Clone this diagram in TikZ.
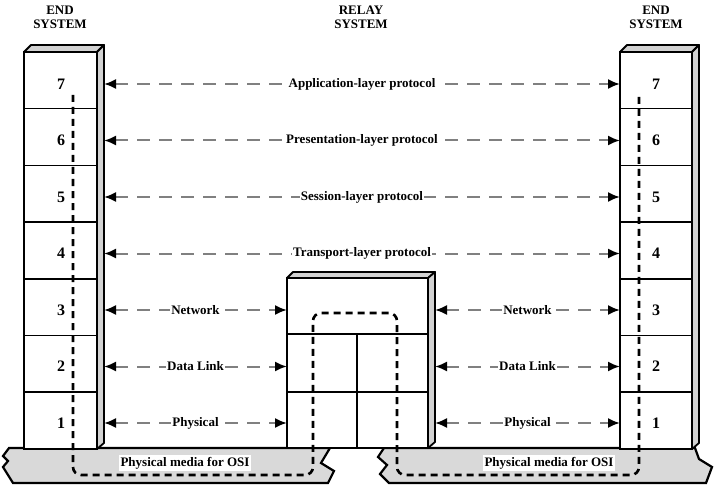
\documentclass[tikz,border=0pt]{standalone}
\usepackage{fontspec}
\setmainfont{Liberation Serif}
\usetikzlibrary{arrows.meta}

\begin{document}
\begin{tikzpicture}[x=1pt,y=-1pt,
  every node/.style={font=\bfseries\fontsize{13}{14}\selectfont},
  proto/.style={draw=gray, line width=2pt, dash pattern=on 13pt off 9pt,
    {Latex[color=black,length=12pt,width=10pt]}-{Latex[color=black,length=12pt,width=10pt]}},
  lbl/.style={fill=white, inner sep=1pt},
  num/.style={font=\bfseries\fontsize{16}{16}\selectfont},
  face/.style={draw=black, line width=2pt, fill=white},
  side/.style={draw=black, line width=1.8pt, fill=gray!35, line join=round},
  grid/.style={line width=1.5pt},
  media/.style={draw=black, line width=2.2pt, fill=gray!30, line join=miter},
  route/.style={line width=2.6pt, dash pattern=on 7pt off 5pt, rounded corners=8pt}]
\useasboundingbox (0,0) rectangle (714,489);

% physical media
\draw[media] (9,448) -- (330,448) -- (321,463) -- (334,471) -- (328,483) -- (13,483)
  -- (3,467) -- (8,461) -- (3,456) -- cycle;
\draw[media] (384,448) -- (695,448) -- (699,459) -- (712,467) -- (706,483) -- (389,483)
  -- (380,474) -- (387,465) -- (378,457) -- cycle;
\node[fill=white, inner sep=2pt] (medL) at (185,463) {Physical media for OSI};
\node[fill=white, inner sep=2pt] (medR) at (549,463) {Physical media for OSI};

% end systems
\foreach \xa/\xb/\xn in {24/97/61, 620/692/656} {
  \draw[face] (\xa,52) rectangle (\xb,449);
  \draw[side] (\xa,52) -- (\xa+7,45) -- (\xb+7,45) -- (\xb,52) -- cycle;
  \draw[side] (\xb,52) -- (\xb+7,45) -- (\xb+7,443) -- (\xb,449) -- cycle;
  \foreach \i in {1,...,6}
    \draw[grid] (\xa,{52+56.7*\i}) -- (\xb,{52+56.7*\i});
  \foreach \n [count=\i from 0] in {7,...,1}
    \node[num] at (\xn,{84+56.5*\i}) {\n};
}

% relay system
\draw[face] (287,278) rectangle (428,448);
\draw[side] (287,278) -- (293,272) -- (435,272) -- (428,278) -- cycle;
\draw[side] (428,278) -- (435,272) -- (435,442) -- (428,448) -- cycle;
\draw[line width=2pt] (287,334) -- (428,334);
\draw[grid] (287,392) -- (428,392);
\draw[grid] (357,334) -- (357,448);

% titles
\node[align=center] (endL) at (60,17) {END\\SYSTEM};
\node[align=center] (relay) at (361,17) {RELAY\\SYSTEM};
\node[align=center] (endR) at (656,17) {END\\SYSTEM};

% peer protocols
\foreach \n/\txt [count=\i from 0] in {7/Application-layer protocol,
    6/Presentation-layer protocol, 5/Session-layer protocol, 4/Transport-layer protocol} {
  \coordinate (a\n) at (104,{84+56.5*\i});
  \coordinate (b\n) at (620,{84+56.5*\i});
  \draw[proto] (a\n) -- (b\n) node[midway, lbl] {\txt};
}
\foreach \n/\txt [count=\i from 4] in {3/Network, 2/Data Link, 1/Physical} {
  \coordinate (a\n) at (104,{84+56.5*\i});
  \coordinate (c\n) at (287,{84+56.5*\i});
  \coordinate (d\n) at (435,{84+56.5*\i});
  \coordinate (b\n) at (620,{84+56.5*\i});
  \draw[proto] (a\n) -- (c\n) node[midway, lbl] {\txt};
  \draw[proto] (d\n) -- (b\n) node[midway, lbl] {\txt};
}

% data path
\coordinate (src) at (73,95);
\coordinate (dst) at (639,95);
\draw[route] (src) |- (313,475) |- (397,313) |- (639,475) -- (dst);
\end{tikzpicture}
\end{document}
